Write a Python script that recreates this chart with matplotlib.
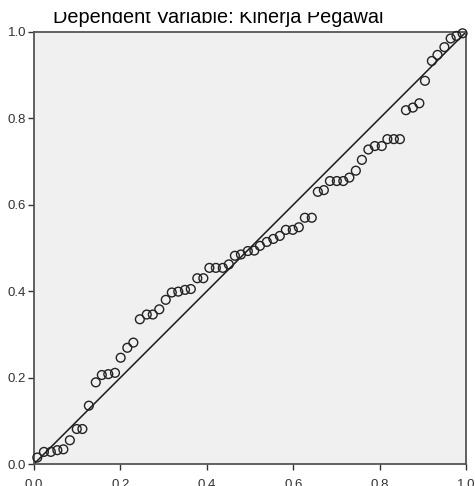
import matplotlib
matplotlib.use("Agg")
import matplotlib.pyplot as plt
from matplotlib.patches import Rectangle

observed_cum_prob = [
    0.0076, 0.023, 0.039, 0.054, 0.068, 0.083, 0.099, 0.112, 0.127, 0.143,
    0.157, 0.172, 0.1875, 0.2006, 0.216, 0.230, 0.245, 0.261, 0.275, 0.290,
    0.305, 0.319, 0.334, 0.3495, 0.363, 0.378, 0.392, 0.406, 0.421, 0.437,
    0.451, 0.465, 0.479, 0.495, 0.510, 0.523, 0.539, 0.554, 0.569, 0.583,
    0.599, 0.613, 0.627, 0.643, 0.657, 0.671, 0.685, 0.701, 0.716, 0.730,
    0.745, 0.759, 0.774, 0.789, 0.805, 0.818, 0.833, 0.847, 0.861, 0.877,
    0.892, 0.905, 0.921, 0.934, 0.950, 0.9645, 0.978, 0.992,
]
expected_cum_prob = [
    0.015, 0.028, 0.028, 0.032, 0.034, 0.055, 0.081, 0.081, 0.135, 0.189,
    0.206, 0.208, 0.211, 0.246, 0.269, 0.281, 0.335, 0.346, 0.346, 0.358,
    0.380, 0.397, 0.399, 0.403, 0.405, 0.430, 0.430, 0.454, 0.454, 0.454,
    0.462, 0.482, 0.485, 0.493, 0.494, 0.505, 0.514, 0.521, 0.528, 0.542,
    0.542, 0.548, 0.570, 0.570, 0.630, 0.634, 0.655, 0.655, 0.655, 0.663,
    0.679, 0.704, 0.728, 0.736, 0.736, 0.752, 0.752, 0.752, 0.819, 0.825,
    0.835, 0.887, 0.933, 0.947, 0.965, 0.985, 0.991, 0.997,
]
ticks = [0.0, 0.2, 0.4, 0.6, 0.8, 1.0]
tick_labels = ["0.0", "0.2", "0.4", "0.6", "0.8", "1.0"]
title = "Dependent Variable: Kinerja Pegawai"

plt.rcParams['font.family'] = ['Liberation Sans', 'DejaVu Sans']

W, H = 475, 486
fig = plt.figure(figsize=(W / 100, H / 100), dpi=100)
ax = fig.add_axes([34 / W, 22 / H, 432 / W, 432 / H])
ax.set_facecolor('#f0f0f0')

ax.plot([0, 1], [0, 1], color='#1a1a1a', lw=1.1, zorder=2)
ax.scatter(observed_cum_prob, expected_cum_prob, s=40, facecolors='none',
           edgecolors='#222222', linewidths=1.0, zorder=3, clip_on=False)

ax.set_xlim(0, 1)
ax.set_ylim(0, 1)
ax.set_xticks(ticks)
ax.set_xticklabels(tick_labels)
ax.set_yticks(ticks)
ax.set_yticklabels(tick_labels)
ax.tick_params(direction='out', length=4.5, width=1.0, colors='#333333',
               labelsize=9.5)
ax.tick_params(axis='y', pad=1)
ax.tick_params(axis='x', pad=6)
for s in ax.spines.values():
    s.set_color('#555555')
    s.set_linewidth(1.3)

fig.text(218 / W, 1 - 23 / H, title, ha='center', va='baseline',
         fontsize=14.3, color='#000000')
fig.patches.append(Rectangle((0, 1 - 12 / H), 1, 12 / H, transform=fig.transFigure,
                             facecolor='white', edgecolor='none', zorder=10))

fig.savefig('out.png', dpi=100)
